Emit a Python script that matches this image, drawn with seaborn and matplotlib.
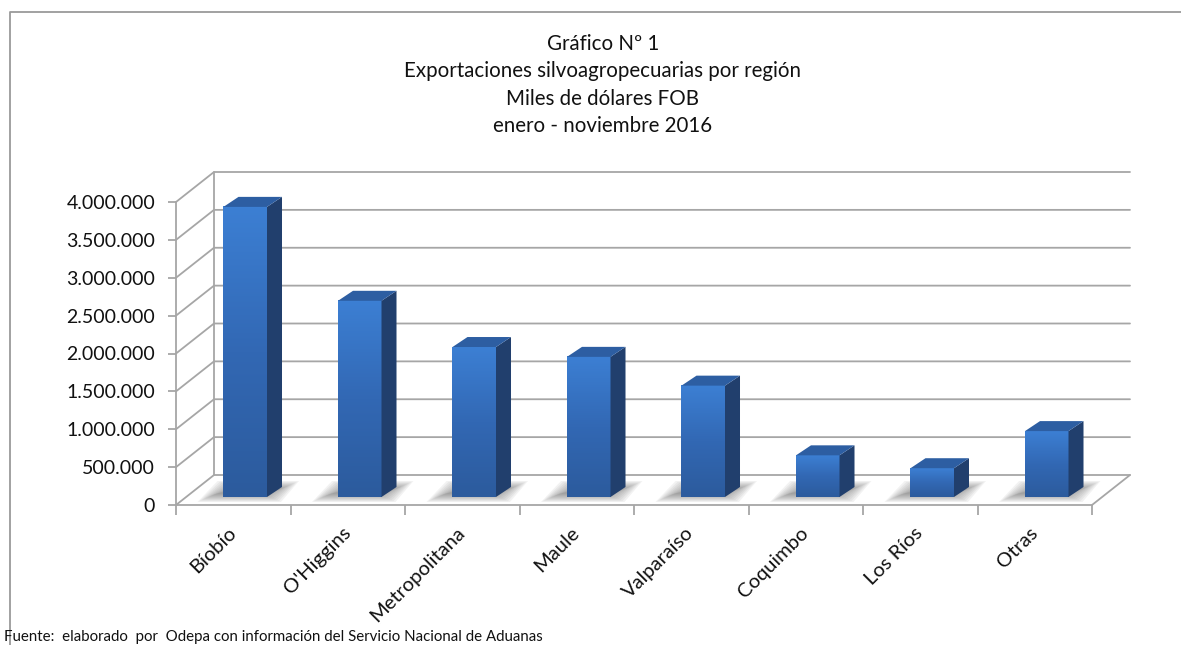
import matplotlib
matplotlib.use("Agg")
import matplotlib.pyplot as plt
from matplotlib.lines import Line2D
from matplotlib.patches import Polygon
from matplotlib.transforms import IdentityTransform
from matplotlib.colors import LinearSegmentedColormap
import numpy as np
import seaborn as sns

# data
regions = ["Bíobío", "O'Higgins", "Metropolitana", "Maule", "Valparaíso",
           "Coquimbo", "Los Ríos", "Otras"]
values = [3830000, 2590000, 1980000, 1850000, 1470000, 550000, 380000, 870000]
yticks = [0, 500000, 1000000, 1500000, 2000000, 2500000, 3000000, 3500000, 4000000]
ytick_labels = ["0", "500.000", "1.000.000", "1.500.000", "2.000.000",
                "2.500.000", "3.000.000", "3.500.000", "4.000.000"]
title_lines = ["Gráfico Nº 1",
               "Exportaciones silvoagropecuarias por región",
               "Miles de dólares FOB",
               "enero - noviembre 2016"]
source_note = "Fuente:  elaborado  por  Odepa con información del Servicio Nacional de Aduanas"

W, H, DPI = 1181, 645, 100
GRID = "#a6a6a6"
FONT = ["Lato", "DejaVu Sans"]

sns.set_style("white")
plt.rcParams["font.family"] = FONT

fig = plt.figure(figsize=(W / DPI, H / DPI), dpi=DPI)


def px_axes(x0, ytop, x1, ybot):
    return fig.add_axes([x0 / W, (H - ybot) / H, (x1 - x0) / W, (ybot - ytop) / H])


# front plane (axis) and bar plane (shifted into depth)
ax = px_axes(176, 202, 1092, 505)
bx = px_axes(176 + 12, 202 - 8, 1092 + 12, 505 - 8)
for a in (ax, bx):
    a.set_xlim(-0.5, len(regions) - 0.5)
    a.set_ylim(0, 4000000)
    a.patch.set_visible(False)

# axis cosmetics
sns.despine(ax=ax, top=True, right=True)
for s in ("left", "bottom"):
    ax.spines[s].set_color(GRID)
    ax.spines[s].set_linewidth(1.3)
ax.set_yticks(yticks, ytick_labels)
ax.tick_params(axis="y", length=6, width=1.3, color=GRID, pad=9, labelsize=14,
               left=True, labelcolor="#111111")
ax.set_xticks(range(len(regions)), regions)
ax.set_xticks(np.arange(-0.5, len(regions)), minor=True)
ax.tick_params(axis="x", which="major", length=0, pad=18, labelsize=14.5,
               labelcolor="#111111")
ax.tick_params(axis="x", which="minor", length=7, width=1.3, color=GRID, bottom=True)
for lab in ax.get_xticklabels():
    lab.set_rotation(45)
    lab.set_ha("right")
    lab.set_va("center")
    lab.set_rotation_mode("anchor")

# back wall, side connectors and floor
off = np.array([38.0, 30.0])
to_px = ax.transData.transform
ident = IdentityTransform()
for v in yticks:
    a = to_px((-0.5, v))
    b = to_px((len(regions) - 0.5, v))
    ax.add_line(Line2D([a[0], a[0] + off[0], b[0] + off[0]],
                       [a[1], a[1] + off[1], b[1] + off[1]],
                       transform=ident, color=GRID, lw=1.3, clip_on=False, zorder=1))
a0 = to_px((-0.5, 0)) + off
a1 = to_px((-0.5, 4000000)) + off
ax.add_line(Line2D([a0[0], a1[0]], [a0[1], a1[1]], transform=ident, color=GRID,
                   lw=1.3, clip_on=False, zorder=1))
r0 = to_px((len(regions) - 0.5, 0))
ax.add_line(Line2D([r0[0], r0[0] + off[0]], [r0[1], r0[1] + off[1]], transform=ident,
                   color=GRID, lw=1.3, clip_on=False, zorder=1))

# bars
sns.barplot(x=regions, y=values, ax=bx, color="#3470be", saturation=1, width=0.38,
            zorder=2)
bx.set_autoscale_on(False)
bx.axis("off")

front_cmap = LinearSegmentedColormap.from_list("front", ["#3c7fd3", "#3268b4", "#2c5b9d"])
grad = np.linspace(0, 1, 64).reshape(-1, 1) * np.ones((1, 16))
depth = np.array([15.0, 10.0])
to_bx = bx.transData.transform
for p in bx.patches:
    x0, w, h = p.get_x(), p.get_width(), p.get_height()
    p.set_edgecolor("none")
    bx.imshow(grad, extent=(x0, x0 + w, 0, h), cmap=front_cmap, aspect="auto",
              clip_path=p, zorder=2.1)
    bl = to_bx((x0, 0))
    br = to_bx((x0 + w, 0))
    tl = to_bx((x0, h))
    tr = to_bx((x0 + w, h))
    # soft floor shadow: nested parallelograms, darker towards the bar
    for k in range(10):
        s = 2.0 * k
        quad = [(bl[0] - 26 + s, bl[1] - 5 + 0.45 * s),
                (br[0] + 14 - s, br[1] - 5 + 0.45 * s),
                (br[0] + 32 - s, br[1] + 16 - 0.45 * s),
                (bl[0] - 6 + s, bl[1] + 16 - 0.45 * s)]
        bx.add_patch(Polygon(quad, closed=True, transform=ident, facecolor="#4a4a4a",
                             edgecolor="none", alpha=0.065, clip_on=False, zorder=1.5))
    # right side face
    bx.add_patch(Polygon([br, br + depth, tr + depth, tr], closed=True, transform=ident,
                         facecolor="#213f6d", edgecolor="none", clip_on=False, zorder=3))
    # top face
    bx.add_patch(Polygon([tl, tr, tr + depth, tl + depth], closed=True, transform=ident,
                         facecolor="#2d5ea2", edgecolor="none", clip_on=False, zorder=3))

# titles and frame
for i, line in enumerate(title_lines):
    fig.text(603 / W, 1 - (44 + 27.3 * i) / H, line, ha="center", va="center",
             fontsize=14.8, color="#111111")
fig.text(4 / W, 1 - 637 / H, source_note, ha="left", va="center", fontsize=10.8,
         color="#111111")
fig.add_artist(Line2D([10 / W, 10 / W, 1.0], [0.0, 1 - 12 / H, 1 - 12 / H],
                      transform=fig.transFigure, color="#9a9a9a", lw=1.3))

fig.savefig("out.png", dpi=DPI)
